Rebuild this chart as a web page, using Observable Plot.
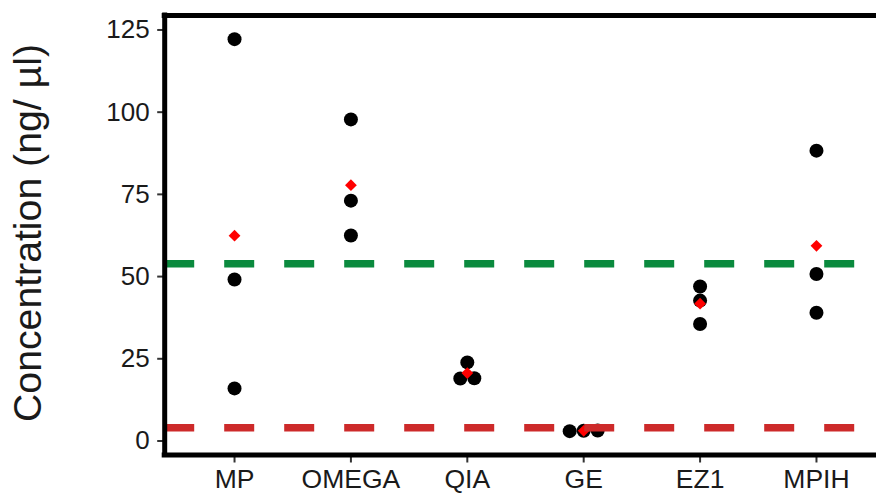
<!DOCTYPE html>
<html><head><meta charset="utf-8">
<script src="https://cdn.jsdelivr.net/npm/d3@7"></script>
<script src="https://cdn.jsdelivr.net/npm/@observablehq/plot@0.6"></script>
<style>
html,body{margin:0;padding:0;background:#fff;overflow:hidden;}
#chart svg{overflow:hidden;display:block;}
#chart svg text{fill:#1a1a1a;}
</style></head><body><div id="chart"></div>
<script>
// ---- data ----
const categories = ["MP", "OMEGA", "QIA", "GE", "EZ1", "MPIH"];
const valuesMP    = [122.2, 49.1, 16.0];
const valuesOMEGA = [97.8, 73.1, 62.5];
const valuesQIA   = [23.9, 19.1, 19.0];
const valuesGE    = [3.1, 3.2, 3.0];
const valuesEZ1   = [47.0, 42.7, 35.6];
const valuesMPIH  = [88.3, 50.8, 39.0];
const yTicks = [0, 25, 50, 75, 100, 125];
const upperThreshold = 53.9;
const lowerThreshold = 4.0;
const yTitle = "Concentration (ng/ \u00b5l)";

const seriesValues = [valuesMP, valuesOMEGA, valuesQIA, valuesGE, valuesEZ1, valuesMPIH];

// ---- layout ----
const W = 876, H = 493;
const xRange = [164.2, 885.8];
const xDomain = [0.4, 6.6];
const yDomain = [-4.26, 129.4];
const yRange = [454.5, 15];
const pxPerUnit = (xRange[1] - xRange[0]) / (xDomain[1] - xDomain[0]);
const dotR = 7;

// dodge points with (near-)equal values side by side
function dodgeOffsets(vals) {
  const order = vals.map((v, i) => i).sort((a, b) => vals[a] - vals[b]);
  const off = new Array(vals.length).fill(0);
  let cluster = [order[0]];
  const flush = () => {
    const n = cluster.length;
    cluster.forEach((idx, k) => { off[idx] = (k - (n - 1) / 2) * (2 * dotR) / pxPerUnit; });
  };
  for (let j = 1; j < order.length; j++) {
    if (vals[order[j]] - vals[order[j - 1]] < 1.5) cluster.push(order[j]);
    else { flush(); cluster = [order[j]]; }
  }
  flush();
  return off;
}

const points = [];
const means = [];
seriesValues.forEach((vals, ci) => {
  const off = dodgeOffsets(vals);
  vals.forEach((v, k) => points.push({x: ci + 1 + off[k], y: v}));
  means.push({x: ci + 1, y: d3.mean(vals)});
});

const chart = Plot.plot({
  width: W, height: H,
  marginLeft: xRange[0], marginRight: W - xRange[1],
  marginTop: yRange[1], marginBottom: H - yRange[0],
  style: {fontFamily: "'Liberation Sans', Arial, sans-serif", background: "#fff"},
  x: {type: "linear", domain: xDomain, range: xRange},
  y: {type: "linear", domain: yDomain, range: yRange},
  marks: [
    Plot.dot(points, {x: "x", y: "y", r: dotR, fill: "black", stroke: "none"}),
    Plot.dot(means, {x: "x", y: "y", r: 5.3, symbol: "diamond2", fill: "#ff0000", stroke: "none"}),
    Plot.ruleY([upperThreshold], {x1: xDomain[0], x2: xDomain[1], stroke: "#0a8a3e", strokeWidth: 7.5, strokeDasharray: "30,30"}),
    Plot.ruleY([lowerThreshold], {x1: xDomain[0], x2: xDomain[1], stroke: "#cd2a2a", strokeWidth: 7.5, strokeDasharray: "30,30"}),
    Plot.axisY(yTicks, {anchor: "left", tickSize: 7, tickPadding: 8, fontSize: 26, stroke: "#333", strokeWidth: 2, label: null}),
    Plot.axisX(d3.range(1, categories.length + 1), {anchor: "bottom", tickSize: 8, tickPadding: 6, fontSize: 26.5, stroke: "#333", strokeWidth: 2, tickFormat: i => categories[i - 1], label: null}),
    Plot.ruleX([xDomain[0]], {y1: yDomain[0], y2: yDomain[1], stroke: "black", strokeWidth: 5, strokeLinecap: "square"}),
    Plot.ruleY([yDomain[0], yDomain[1]], {x1: xDomain[0], x2: xDomain[1], stroke: "black", strokeWidth: 5, strokeLinecap: "square"})
  ]
});

const svg = d3.select(chart.tagName.toLowerCase() === "svg" ? chart : chart.querySelector("svg"));
svg.append("text")
  .attr("transform", "translate(41,233) rotate(-90)")
  .attr("text-anchor", "middle")
  .attr("font-size", 39)
  .attr("font-family", "'Liberation Sans', Arial, sans-serif")
  .attr("fill", "#1a1a1a")
  .attr("textLength", 378)
  .attr("lengthAdjust", "spacingAndGlyphs")
  .text(yTitle);

document.getElementById("chart").appendChild(chart);
</script>
</body></html>
